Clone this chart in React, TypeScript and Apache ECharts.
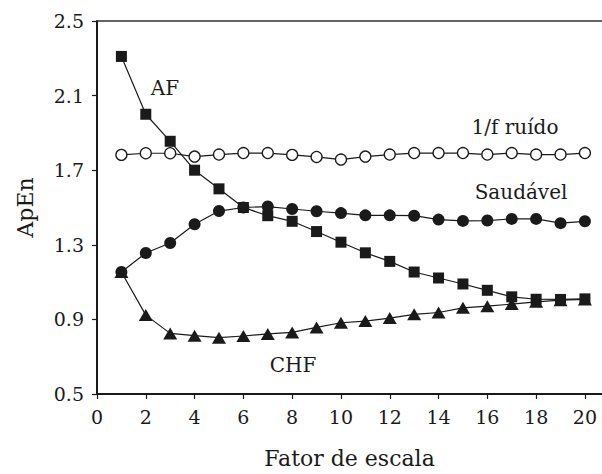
import React, { useEffect, useRef } from "react";
import * as echarts from "echarts";

const scales = [1, 2, 3, 4, 5, 6, 7, 8, 9, 10, 11, 12, 13, 14, 15, 16, 17, 18, 19, 20];
const afValues = [2.31, 2.0, 1.855, 1.70, 1.60, 1.50, 1.456, 1.426, 1.371, 1.314, 1.257, 1.211, 1.154, 1.122, 1.09, 1.056, 1.021, 1.008, 1.007, 1.01];
const noiseValues = [1.782, 1.791, 1.791, 1.773, 1.784, 1.792, 1.792, 1.782, 1.771, 1.757, 1.773, 1.784, 1.792, 1.792, 1.792, 1.784, 1.792, 1.784, 1.784, 1.792];
const healthyValues = [1.154, 1.256, 1.31, 1.41, 1.481, 1.50, 1.505, 1.492, 1.48, 1.47, 1.458, 1.458, 1.456, 1.435, 1.428, 1.43, 1.439, 1.439, 1.416, 1.426];
const chfValues = [1.154, 0.923, 0.825, 0.813, 0.802, 0.811, 0.822, 0.83, 0.857, 0.882, 0.891, 0.907, 0.927, 0.937, 0.962, 0.971, 0.982, 0.994, 1.003, 1.007];
const xTicks = [0, 2, 4, 6, 8, 10, 12, 14, 16, 18, 20];
const yTicks = [0.5, 0.9, 1.3, 1.7, 2.1, 2.5];

const FONT = "DejaVu Serif";
const INK = "#1a1a1a";

function pairs(vals: number[]) {
  return scales.map((s, i) => [s, vals[i]]);
}

export default function App() {
  const ref = useRef<HTMLDivElement>(null);
  useEffect(() => {
    const chart = echarts.init(ref.current!, null, { renderer: "svg" });
    const lineStyle = { color: INK, width: 1.2 };
    chart.setOption({
      animation: false,
      grid: { left: 97, right: 0, top: 21, bottom: 78 },
      xAxis: [
        {
          type: "value",
          min: 0,
          max: 20.7,
          name: "Fator de escala",
          nameLocation: "middle",
          nameGap: 53,
          nameTextStyle: { fontFamily: FONT, fontSize: 22, color: INK },
          axisLine: { show: true, lineStyle: { color: INK, width: 2 } },
          axisTick: { show: true, customValues: xTicks, length: 5, lineStyle: { color: INK, width: 1.2 } },
          axisLabel: { customValues: xTicks, margin: 13, fontFamily: FONT, fontSize: 19, color: INK },
          splitLine: { show: false },
        },
        {
          type: "value",
          position: "top",
          min: 0,
          max: 20.7,
          axisLine: { show: true, onZero: false, lineStyle: { color: "#333", width: 1.5 } },
          axisTick: { show: false },
          axisLabel: { show: false },
          splitLine: { show: false },
        },
      ],
      yAxis: {
        type: "value",
        min: 0.5,
        max: 2.5,
        name: "ApEn",
        nameLocation: "middle",
        nameGap: 61,
        nameTextStyle: { fontFamily: FONT, fontSize: 22, color: INK },
        axisLine: { show: true, lineStyle: { color: INK, width: 2 } },
        axisTick: { show: true, customValues: yTicks, length: 5, lineStyle: { color: INK, width: 1.2 } },
        axisLabel: {
          customValues: yTicks,
          margin: 13,
          fontFamily: FONT,
          fontSize: 19,
          color: INK,
          formatter: (v: number) => v.toFixed(1),
        },
        splitLine: { show: false },
      },
      series: [
        {
          name: "1/f ruído",
          type: "line",
          data: pairs(noiseValues),
          symbol: "circle",
          symbolSize: 11,
          lineStyle,
          itemStyle: { color: "#ffffff", borderColor: INK, borderWidth: 1.3 },
          z: 3,
        },
        {
          name: "Saudável",
          type: "line",
          data: pairs(healthyValues),
          symbol: "circle",
          symbolSize: 12,
          lineStyle,
          itemStyle: { color: INK, borderColor: INK, borderWidth: 0 },
          z: 3,
        },
        {
          name: "AF",
          type: "line",
          data: pairs(afValues),
          symbol: "rect",
          symbolSize: 11,
          lineStyle,
          itemStyle: { color: INK, borderColor: INK, borderWidth: 0 },
          z: 4,
        },
        {
          name: "CHF",
          type: "line",
          data: pairs(chfValues),
          symbol: "triangle",
          symbolSize: [14, 12],
          lineStyle,
          itemStyle: { color: INK, borderColor: INK, borderWidth: 0 },
          z: 4,
        },
      ],
      graphic: [
        { type: "text", x: 165, y: 88, style: { text: "AF", font: `20px '${FONT}'`, fill: INK, align: "center", verticalAlign: "middle" } },
        { type: "text", x: 515, y: 127, style: { text: "1/f ruído", font: `20px '${FONT}'`, fill: INK, align: "center", verticalAlign: "middle" } },
        { type: "text", x: 521, y: 192, style: { text: "Saudável", font: `20px '${FONT}'`, fill: INK, align: "center", verticalAlign: "middle" } },
        { type: "text", x: 293, y: 365, style: { text: "CHF", font: `20px '${FONT}'`, fill: INK, align: "center", verticalAlign: "middle" } },
      ],
    });
    return () => chart.dispose();
  }, []);
  return <div ref={ref} style={{ position: "fixed", left: 0, top: 0, width: 602, height: 474, background: "#fff" }} />;
}
